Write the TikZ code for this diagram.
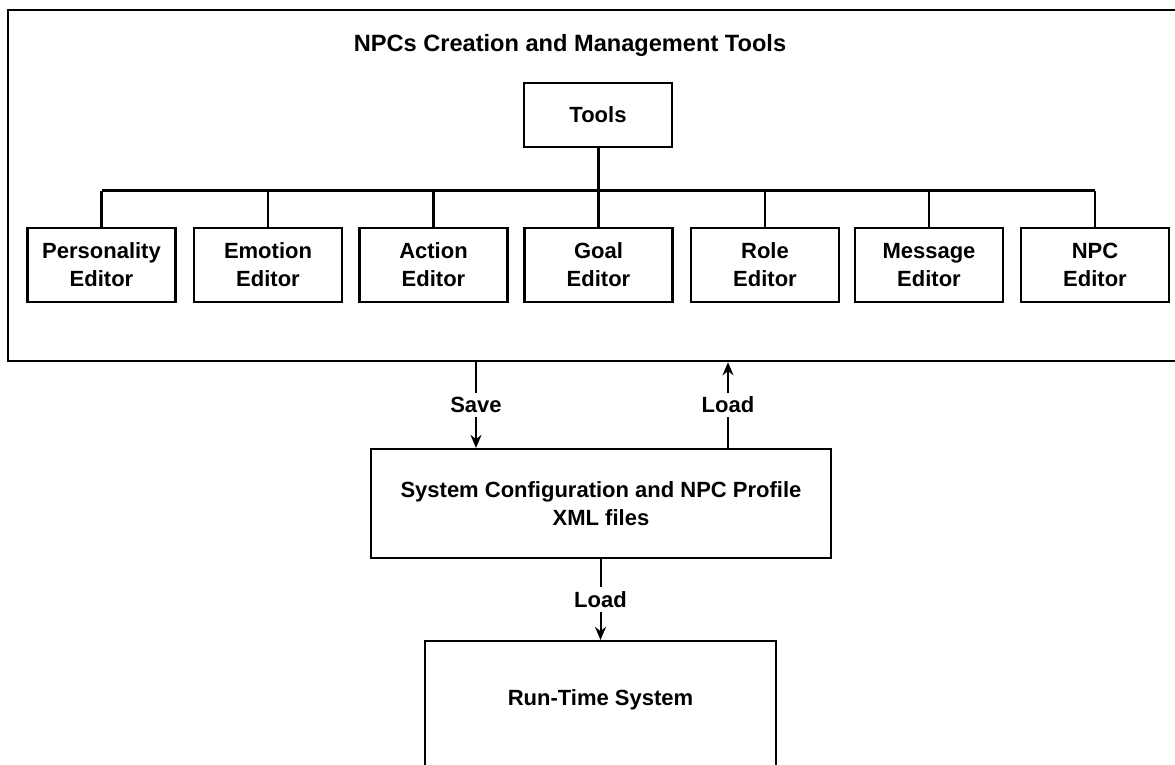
\documentclass[tikz,border=0pt]{standalone}
\usepackage{fontspec}
\setmainfont{Liberation Sans}
\usetikzlibrary{arrows.meta}
\begin{document}
\begin{tikzpicture}[x=0.5pt,y=-0.5pt,
  box/.style={draw=black,line width=1.1pt,inner sep=0pt,align=center,
    font=\fontsize{11}{14}\selectfont\bfseries},
  editor/.style={box,minimum width=74pt,minimum height=37pt},
  wire/.style={line width=1.1pt},
  arr/.style={line width=1.0pt,-{Stealth[length=6.5pt,width=5.5pt]}},
  lbl/.style={fill=white,inner sep=2pt,font=\fontsize{11}{14}\selectfont\bfseries}]
\useasboundingbox (0,0) rectangle (1175,765);
\clip (0,0) rectangle (1175,765);
% outer frame (right edge runs off the page)
\node[draw=black,line width=1.3pt,minimum width=588.5pt,minimum height=175.5pt,inner sep=0pt] (frame) at (596.5,185.5) {};
\node[font=\fontsize{11.8}{15}\selectfont\bfseries] (title) at (570,45) {NPCs Creation and Management Tools};
\node[box,minimum width=74pt,minimum height=32pt] (tools) at (598,115) {Tools};
\node[editor] (e1) at (101.5,265) {Personality\\Editor};
\node[editor] (e2) at (268,265) {Emotion\\Editor};
\node[editor] (e3) at (433.5,265) {Action\\Editor};
\node[editor] (e4) at (598.5,265) {Goal\\Editor};
\node[editor] (e5) at (765,265) {Role\\Editor};
\node[editor] (e6) at (929,265) {Message\\Editor};
\node[editor] (e7) at (1095,265) {NPC\\Editor};
\coordinate (busy) at (0,191);
\draw[wire,line width=1.5pt] (e1.north |- busy) -- (e7.north |- busy);
\draw[wire,line width=1.5pt] (tools.south) -- (tools.south |- busy);
\foreach \e in {e1,e2,e3,e4,e5,e6,e7}
  \draw[wire] (\e.north) -- (\e.north |- busy);
% lower boxes
\node[box,minimum width=230pt,minimum height=54.5pt] (sys) at (601,503.5) {System Configuration and NPC Profile\\XML files};
\node[draw=black,line width=1.1pt,minimum width=175.5pt,minimum height=79.5pt,inner sep=0pt] (run) at (600.5,720.5) {};
\node[font=\fontsize{11}{14}\selectfont\bfseries] (runtext) at (600.5,700) {Run-Time System};
% connectors
\coordinate (savex) at (476,0);
\coordinate (loadx) at (728,0);
\draw[arr] (frame.south -| savex) -- (sys.north -| savex) node[midway,lbl] {Save};
\draw[arr] (sys.north -| loadx) -- (frame.south -| loadx) node[midway,lbl] {Load};
\draw[arr] (sys.south -| run.north) -- (run.north) node[midway,lbl] {Load};
\end{tikzpicture}
\end{document}
